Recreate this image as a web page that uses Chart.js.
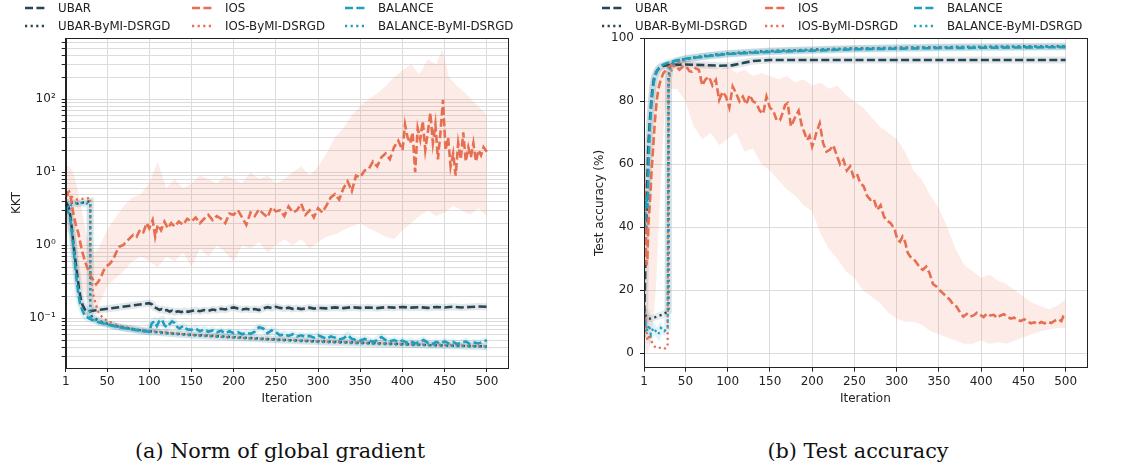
<!DOCTYPE html>
<html>
<head>
<meta charset="utf-8">
<script src="https://cdn.jsdelivr.net/npm/chart.js@4.4.0/dist/chart.umd.min.js"></script>
<style>
  body { margin: 0; background: #fff; width: 1129px; height: 467px; position: relative; overflow: hidden; font-family: 'DejaVu Sans', sans-serif; }
  canvas { position: absolute; top: 0; }
  #cvKkt { left: 0; }
  #cvAcc { left: 560px; }
  .leg { position: absolute; font-size: 11.8px; color: #222; white-space: nowrap; line-height: 14px; }
  .leg svg { position: absolute; }
  .cap { position: absolute; top: 439px; font-family: 'DejaVu Serif', serif; font-size: 20.8px; color: #111; transform: translateX(-50%); white-space: nowrap; }
</style>
</head>
<body>
<canvas id="cvKkt" width="560" height="420"></canvas>
<canvas id="cvAcc" width="569" height="420"></canvas>
<div id="legends"></div>
<div class="cap" style="left:280px">(a) Norm of global gradient</div>
<div class="cap" style="left:858px">(b) Test accuracy</div>

<script>
// ---- dados: [iteração, valor] ----
const xTicks = [1, 50, 100, 150, 200, 250, 300, 350, 400, 450, 500];
const accTicks = [0, 20, 40, 60, 80, 100];

// (a) KKT
const kktUbar = [[1,3.8],[3,3.6],[5,3.2],[7,2.3],[9,1.4],[11,0.85],[13,0.55],[15,0.36],[17,0.24],[19,0.18],[21,0.15],[24,0.13],[27,0.122],[30,0.125],
  [100,0.16],[103,0.155],[106,0.14],[109,0.136],[112,0.13],[115,0.133],[118,0.127],[121,0.129],[124,0.123],[127,0.126],[130,0.12],[134,0.124],[138,0.121],
  [142,0.126],[146,0.122],[150,0.125],[155,0.128],[160,0.124],[165,0.129],[170,0.126],[175,0.131],[180,0.128],[185,0.134],[190,0.131],[195,0.137],[200,0.14],
  [205,0.135],[210,0.131],[215,0.134],[220,0.13],[225,0.133],[230,0.129],[235,0.136],[240,0.141],[245,0.137],[250,0.143],[255,0.138],[260,0.135],[265,0.139],
  [270,0.134],[275,0.137],[280,0.133],[285,0.136],[290,0.139],[295,0.135],[300,0.138],[310,0.136],[320,0.14],[330,0.137],[340,0.141],[350,0.138],[360,0.14],
  [370,0.137],[380,0.141],[390,0.139],[400,0.142],[410,0.139],[420,0.141],[430,0.138],[440,0.142],[450,0.14],[460,0.143],[470,0.14],[480,0.142],[490,0.144],[500,0.143]];

const kktIos = [[1,4.5],[3,5.2],[5,5.4],[7,4.5],[10,2.7],[13,1.9],[16,1.46],[20,0.86],[23,0.65],[26,0.51],[31,0.37],[34,0.33],[37,0.29],[40,0.32],[43,0.37],
  [46,0.45],[49,0.51],[53,0.55],[57,0.63],[61,0.8],[65,0.96],[69,1.0],[73,1.12],[77,1.25],[81,1.38],[85,1.3],[89,1.62],[93,1.5],[97,2.0],[100,1.7],[104,2.2],
  [107,1.3],[110,1.9],[114,1.6],[118,2.1],[122,1.7],[126,2.0],[130,1.8],[135,2.1],[140,1.9],[145,2.3],[150,2.1],[155,2.4],[160,2.0],[165,2.3],[170,2.6],
  [175,2.2],[180,2.5],[185,2.3],[190,2.0],[195,2.7],[200,2.6],[205,3.0],[210,2.4],[215,1.9],[220,2.8],[225,2.5],[230,3.1],[235,2.7],[240,2.4],[245,3.3],
  [250,2.9],[255,3.0],[260,2.5],[265,3.4],[270,2.8],[275,3.0],[280,3.7],[285,2.6],[290,3.0],[295,2.4],[300,3.2],[305,2.8],[310,3.5],[315,4.5],[320,5.0],
  [325,4.2],[330,6.0],[335,7.5],[340,5.5],[345,9.0],[350,8.5],[355,10.5],[360,11],[365,14],[370,12],[375,16],[380,18],[385,15],[390,22],[395,27],[400,20],
  [403,45],[406,30],[409,25],[412,35],[415,10],[418,40],[421,28],[424,50],[427,20],[430,35],[433,65],[436,25],[439,45],[442,15],[445,35],[448,98],[451,20],
  [454,30],[457,12],[460,18],[463,9],[466,25],[469,15],[472,35],[475,14],[478,22],[481,16],[484,25],[487,14],[490,20],[493,17],[496,22],[500,19]];

const kktIosHi = [[1,12],[5,12],[10,10],[15,6],[20,3],[25,1.5],[30,1.0],[35,0.8],[40,0.9],[45,1.2],[50,1.6],[60,2.4],[70,3.5],[80,4.5],[90,5],[100,7],[110,14],
  [120,6],[130,8],[140,6],[150,7],[160,9],[170,8],[180,7],[190,9],[200,8],[210,7],[220,10],[230,8],[240,9],[250,7],[260,8],[270,10],[280,12],[290,9],[300,12],
  [310,18],[320,30],[330,40],[340,60],[350,80],[360,100],[370,120],[380,150],[390,200],[400,250],[410,300],[420,220],[430,350],[440,300],[447,480],[455,200],
  [465,150],[475,120],[485,90],[495,70],[500,60]];
const kktIosLo = [[1,1.5],[5,1.5],[10,0.7],[15,0.4],[20,0.25],[25,0.2],[30,0.15],[35,0.12],[40,0.15],[45,0.2],[50,0.28],[60,0.35],[70,0.45],[80,0.6],[90,0.7],
  [100,0.6],[110,0.5],[120,0.7],[130,0.6],[140,0.8],[150,0.5],[160,0.9],[170,0.7],[180,1.0],[190,0.8],[200,0.6],[210,1.0],[220,0.9],[230,1.1],[240,0.8],
  [250,1.0],[260,1.2],[270,1.0],[280,1.2],[290,0.9],[300,1.1],[310,1.3],[320,1.4],[330,1.6],[340,1.8],[350,2.0],[360,1.7],[370,1.5],[380,1.3],[390,1.2],
  [400,1.6],[410,2.0],[420,2.5],[430,3.0],[440,2.5],[450,2.8],[460,3.5],[470,3.0],[480,2.6],[490,3.2],[500,2.5]];

const kktBal = [[1,3.4],[3,3.0],[6,2.5],[8,1.6],[10,0.96],[12,0.55],[14,0.33],[16,0.22],[18,0.16],[21,0.125],[24,0.107],[28,0.1],[32,0.095],[40,0.088],
  [50,0.082],[60,0.077],[70,0.073],[80,0.07],[90,0.067],[100,0.065],[103,0.085],[106,0.09],[109,0.078],[112,0.092],[115,0.095],[118,0.08],[121,0.075],
  [124,0.083],[127,0.09],[130,0.086],[133,0.076],[136,0.072],[140,0.078],[145,0.07],[150,0.069],[155,0.072],[160,0.066],[165,0.07],[170,0.065],[175,0.068],
  [180,0.064],[185,0.067],[190,0.062],[195,0.066],[200,0.062],[205,0.064],[210,0.06],[215,0.063],[220,0.061],[225,0.065],[230,0.075],[235,0.072],[240,0.062],
  [245,0.068],[250,0.064],[255,0.058],[260,0.06],[265,0.057],[270,0.06],[275,0.056],[280,0.058],[285,0.055],[290,0.057],[295,0.054],[300,0.058],[305,0.055],
  [310,0.052],[315,0.056],[320,0.054],[325,0.051],[330,0.053],[335,0.058],[340,0.052],[345,0.05],[350,0.049],[355,0.052],[360,0.05],[365,0.047],[370,0.05],
  [375,0.055],[380,0.05],[385,0.048],[390,0.05],[395,0.047],[400,0.049],[405,0.046],[410,0.048],[415,0.045],[420,0.047],[425,0.05],[430,0.046],[435,0.044],
  [440,0.047],[445,0.045],[450,0.048],[455,0.045],[460,0.047],[465,0.044],[470,0.046],[475,0.048],[480,0.044],[485,0.046],[490,0.045],[495,0.047],[500,0.05]];

const kktUbarM = [[1,3.7],[5,3.9],[10,3.8],[15,3.7],[20,3.8],[25,3.9],[30,4.0],[30,0.11],[35,0.1],[40,0.092],[50,0.084],[60,0.078],[70,0.074],[80,0.071],
  [90,0.068],[100,0.066],[125,0.062],[150,0.059],[175,0.057],[200,0.055],[250,0.051],[300,0.048],[350,0.046],[400,0.044],[450,0.042],[500,0.041]];
const kktIosM = [[1,4.0],[3,4.8],[5,5.0],[10,4.4],[15,4.2],[20,4.3],[25,4.3],[30,4.5],[30,0.45],[32,0.3],[34,0.2],[37,0.15],[40,0.12],[45,0.1],[50,0.092],
  [60,0.082],[70,0.076],[80,0.072],[90,0.069],[100,0.067],[150,0.059],[200,0.054],[250,0.051],[300,0.048],[350,0.046],[400,0.044],[450,0.043],[500,0.041]];
const kktBalM = [[1,3.0],[3,3.5],[5,3.2],[8,3.6],[12,3.8],[16,3.7],[20,3.8],[25,3.7],[30,3.8],[30,0.105],[35,0.097],[40,0.09],[50,0.083],[60,0.077],
  [70,0.073],[80,0.07],[90,0.067],[100,0.065],[125,0.061],[150,0.058],[175,0.056],[200,0.054],[250,0.05],[300,0.047],[350,0.045],[400,0.043],[450,0.042],[500,0.04]];

// (b) acurácia
const accUbar = [[1,9],[2,20],[3,35],[4,45],[5,55],[6,65],[7,70],[9,78],[11,84],[13,87.5],[16,89.5],[19,90.6],[23,91.2],[30,91.5],[50,91.7],[70,91.5],
  [90,91.3],[105,91.4],[115,92],[130,92.8],[150,93.1],[200,93.1],[300,93.1],[400,93.1],[500,93.1]];
const accIos = [[1,55],[2,50],[3,35],[4,28],[5,30],[6,40],[8,48],[10,58],[12,66],[14,74],[16,80],[18,84],[21,87],[24,89],[28,90],[31,91],[35,91.5],[39,91],
  [43,90],[47,91],[51,91],[55,89.5],[58,89.4],[62,90.5],[66,90],[70,85],[74,87],[78,87.8],[82,85],[86,86.8],[90,80.4],[94,83],[98,81.5],[102,78],[106,84.7],
  [110,82.5],[114,80],[118,81.5],[122,79],[126,82],[130,80],[134,79.4],[138,77],[142,76],[146,81.5],[150,78],[154,77],[158,74],[162,74],[166,77],[168,78.8],
  [171,79.4],[175,72],[180,75],[184,77],[188,72],[191,70],[194,67.7],[197,69],[200,65.6],[203,68],[205,70],[209,73],[213,66.7],[217,64],[221,64.6],[225,66],
  [229,63],[233,60],[237,61.4],[241,58],[245,59.3],[249,56],[253,57],[257,54],[261,53],[265,50],[269,48.7],[273,49],[277,45.5],[281,47],[285,43.4],[289,42],
  [293,41.3],[296,40],[298,39],[301,36],[304,35.4],[307,37],[310,35.4],[313,32],[316,30.7],[320,30],[324,28.6],[328,27],[331,26.5],[335,27.5],[339,25.4],
  [343,22],[347,21.2],[351,20],[355,19],[359,18],[363,17],[367,15.5],[371,14.8],[375,13],[379,11.6],[383,12.5],[387,11.6],[391,12],[395,12.8],[399,12.2],
  [403,11.5],[407,12.6],[411,12],[415,12.2],[419,11.2],[423,12],[427,12.4],[431,11.6],[435,11],[439,11.3],[443,10.6],[447,10.2],[451,10.8],[455,10],[459,9.5],
  [463,9.8],[467,9.2],[471,9.9],[475,9.5],[479,10],[483,9.6],[487,10.3],[491,10.8],[495,10.2],[497,11.5],[500,10.6]];
const accIosHi = [[1,70],[5,45],[10,75],[15,85],[20,90],[25,92],[30,93],[40,93.5],[50,93],[60,92.5],[70,91],[80,92],[90,90],[100,91],[110,89],[120,90],
  [130,88],[140,89],[150,88],[160,87],[170,88],[180,86],[190,87],[200,85],[210,86],[220,84],[230,85],[240,82],[250,80],[260,78],[270,75],[280,72],[290,70],
  [300,68],[310,64],[320,58],[330,55],[340,50],[350,46],[360,40],[370,33],[380,28],[390,26],[400,24],[410,25],[420,23],[430,22],[440,20],[450,18],[460,16],
  [470,15],[480,14],[490,15],[500,17]];
const accIosLo = [[1,2],[5,0],[10,5],[15,20],[20,50],[25,75],[30,84],[40,84],[50,80],[60,72],[70,68],[80,70],[90,66],[100,68],[110,70],[120,64],[130,65],
  [140,60],[150,58],[160,55],[170,52],[180,50],[190,47],[200,45],[210,38],[220,33],[230,30],[240,26],[250,24],[260,20],[270,18],[280,16],[290,13],[300,11],
  [310,10],[320,10],[330,9],[340,7],[350,6],[360,5],[370,4],[380,3],[390,3],[400,4],[410,3],[420,3.5],[430,3],[440,4],[450,5],[460,6],[470,7],[480,7.5],
  [490,8],[500,8]];
const accBal = [[1,45],[2,40],[3,48],[4,50],[5,46],[6,55],[7,65],[8,72],[10,80],[12,85],[14,88],[17,90],[21,91.2],[25,91.8],[30,92.3],[40,93],[50,93.5],
  [75,94.3],[100,95],[150,95.7],[200,96.1],[250,96.5],[300,96.7],[350,96.9],[400,97],[450,97.1],[500,97.2]];
const accUbarM = [[1,14],[3,12],[6,11],[10,11],[15,11.5],[20,12],[25,12.5],[30,13.5],[30,88],[32,91],[35,92],[40,92.8],[50,93.5],[75,94.5],[100,95.2],
  [150,96],[200,96.4],[250,96.8],[300,97],[350,97.2],[400,97.3],[450,97.4],[500,97.5]];
const accIosM = [[1,8],[3,10],[5,4],[8,6],[11,3],[14,2],[18,1.5],[22,2],[26,1.5],[29,2],[30,85],[32,89],[36,91],[40,92],[50,93.2],[75,94.3],[100,95],
  [150,95.8],[200,96.3],[250,96.7],[300,96.9],[350,97.1],[400,97.2],[450,97.3],[500,97.4]];
const accBalM = [[1,5],[3,9],[5,7],[7,9],[9,6],[12,8],[15,7],[18,6],[21,8],[25,7],[29,8],[30,87],[32,90.5],[35,91.8],[40,92.6],[50,93.4],[75,94.4],
  [100,95.1],[150,95.9],[200,96.3],[250,96.7],[300,96.9],[350,97.1],[400,97.2],[450,97.3],[500,97.4]];

// ---- estilos ----
const C_UBAR = '#264653';
const C_IOS = '#E76F51';
const C_BAL = '#219EBC';
const DASH = [8, 3.4];
const DOT = [2.2, 3.4];
const GRID = '#dcdcdc';
const INK = '#222';

Chart.defaults.font.family = "'DejaVu Sans', sans-serif";
Chart.defaults.font.size = 12;
Chart.defaults.color = INK;

const pts = arr => arr.map(([x, y]) => ({ x, y }));

function linha(label, data, color, dash, width, order) {
  return { label, data: pts(data), borderColor: color, borderWidth: width, borderDash: dash, borderCapStyle: 'butt',
    pointRadius: 0, fill: false, tension: 0, order };
}
function brilho(data, rgba) {
  return { label: '', data: pts(data), borderColor: rgba, borderWidth: 7, pointRadius: 0, fill: false, tension: 0, order: 20 };
}
function faixa(hi, lo, rgba) {
  return [
    { label: '', data: pts(hi), borderWidth: 0, borderColor: 'rgba(0,0,0,0)', pointRadius: 0, fill: false, tension: 0, order: 30 },
    { label: '', data: pts(lo), borderWidth: 0, borderColor: 'rgba(0,0,0,0)', backgroundColor: rgba, pointRadius: 0, fill: '-1', tension: 0, order: 30 }
  ];
}

// moldura superior/direita (estilo matplotlib)
const moldura = {
  id: 'moldura',
  afterDraw(chart) {
    const { ctx, chartArea: a } = chart;
    ctx.save();
    ctx.strokeStyle = INK;
    ctx.lineWidth = 1;
    ctx.strokeRect(Math.round(a.left) + 0.5, Math.round(a.top) + 0.5, Math.round(a.right - a.left), Math.round(a.bottom - a.top));
    ctx.restore();
  }
};

function eixoX(h) {
  return {
    type: 'linear', min: 1, max: 525,
    afterBuildTicks: s => { s.ticks = xTicks.map(v => ({ value: v })); },
    afterFit: s => { s.height = h; },
    ticks: { autoSkip: false, maxRotation: 0, padding: 3 },
    grid: { color: GRID, lineWidth: 1, tickLength: 4, tickColor: INK },
    border: { color: INK, width: 1 },
    title: { display: true, text: 'Iteration', padding: { top: 0, bottom: 14 } }
  };
}

const opcoesBase = {
  responsive: false,
  animation: false,
  plugins: { legend: { display: false }, tooltip: { enabled: false } }
};

// ---- (a) KKT ----
const kktTickVals = [];
for (let e = -2; e <= 2; e++) {
  for (let m = 1; m <= 9; m++) {
    const v = m * Math.pow(10, e);
    if (v >= 0.0207 && v <= 690) kktTickVals.push(v);
  }
}
const sup = { '-': '⁻', '0': '⁰', '1': '¹', '2': '²', '3': '³' };
function rotuloPot(v) {
  const e = Math.log10(v);
  if (Math.abs(e - Math.round(e)) > 1e-6) return '';
  return '10' + String(Math.round(e)).split('').map(c => sup[c]).join('');
}

new Chart(document.getElementById('cvKkt'), {
  type: 'line',
  data: {
    datasets: [
      linha('UBAR', kktUbar, C_UBAR, DASH, 2.6, 6),
      linha('UBAR-ByMI-DSRGD', kktUbarM, C_UBAR, DOT, 2.3, 5),
      linha('IOS', kktIos, C_IOS, DASH, 2.6, 4),
      linha('IOS-ByMI-DSRGD', kktIosM, C_IOS, DOT, 2.3, 3),
      linha('BALANCE', kktBal, C_BAL, DASH, 2.6, 2),
      linha('BALANCE-ByMI-DSRGD', kktBalM, C_BAL, DOT, 2.3, 1),
      brilho(kktUbar, 'rgba(38,70,83,0.13)'),
      brilho(kktUbarM, 'rgba(38,70,83,0.10)'),
      brilho(kktBal, 'rgba(33,158,188,0.13)'),
      brilho(kktBalM, 'rgba(33,158,188,0.10)'),
      ...faixa(kktIosHi, kktIosLo, 'rgba(231,111,81,0.14)')
    ]
  },
  options: {
    ...opcoesBase,
    layout: { padding: { left: 0, top: 38, right: 52, bottom: 0 } },
    scales: {
      x: eixoX(52),
      y: {
        type: 'logarithmic', min: 0.0207, max: 690,
        afterBuildTicks: s => { s.ticks = kktTickVals.map(v => ({ value: v })); },
        afterFit: s => { s.width = 65.7; },
        ticks: { autoSkip: false, padding: 6, callback: v => rotuloPot(v) },
        grid: { color: GRID, lineWidth: 1, tickLength: 4, tickColor: INK },
        border: { color: INK, width: 1 },
        title: { display: true, text: 'KKT', padding: { top: 10, bottom: 0 } }
      }
    }
  },
  plugins: [moldura]
});

// ---- (b) acurácia ----
new Chart(document.getElementById('cvAcc'), {
  type: 'line',
  data: {
    datasets: [
      linha('UBAR', accUbar, C_UBAR, DASH, 2.6, 6),
      linha('UBAR-ByMI-DSRGD', accUbarM, C_UBAR, DOT, 2.3, 5),
      linha('IOS', accIos, C_IOS, DASH, 2.6, 4),
      linha('IOS-ByMI-DSRGD', accIosM, C_IOS, DOT, 2.3, 3),
      linha('BALANCE', accBal, C_BAL, DASH, 2.6, 2),
      linha('BALANCE-ByMI-DSRGD', accBalM, C_BAL, DOT, 2.3, 1),
      brilho(accUbar, 'rgba(38,70,83,0.13)'),
      brilho(accUbarM, 'rgba(38,70,83,0.10)'),
      brilho(accBal, 'rgba(33,158,188,0.13)'),
      brilho(accBalM, 'rgba(33,158,188,0.12)'),
      ...faixa(accIosHi, accIosLo, 'rgba(231,111,81,0.14)')
    ]
  },
  options: {
    ...opcoesBase,
    layout: { padding: { left: 0, top: 38.3, right: 42.3, bottom: 0 } },
    scales: {
      x: eixoX(52.3),
      y: {
        type: 'linear', min: -4.6, max: 100,
        afterBuildTicks: s => { s.ticks = accTicks.map(v => ({ value: v })); },
        afterFit: s => { s.width = 84; },
        ticks: { autoSkip: false, padding: 6 },
        grid: { color: GRID, lineWidth: 1, tickLength: 4, tickColor: INK },
        border: { color: INK, width: 1 },
        title: { display: true, text: 'Test accuracy (%)', padding: { top: 33, bottom: 0 } }
      }
    }
  },
  plugins: [moldura]
});

// ---- legendas em HTML (3 colunas x 2 linhas) ----
const legendItems = [
  { label: 'UBAR', color: C_UBAR, dash: '8,3.4' },
  { label: 'IOS', color: C_IOS, dash: '8,3.4' },
  { label: 'BALANCE', color: C_BAL, dash: '8,3.4' },
  { label: 'UBAR-ByMI-DSRGD', color: C_UBAR, dash: '2.2,3.4' },
  { label: 'IOS-ByMI-DSRGD', color: C_IOS, dash: '2.2,3.4' },
  { label: 'BALANCE-ByMI-DSRGD', color: C_BAL, dash: '2.2,3.4' }
];
const legendCols = { kkt: [25, 192, 345], acc: [602, 765, 914] };
const legendRows = [8, 26];

const host = document.getElementById('legends');
Object.values(legendCols).forEach(cols => {
  legendItems.forEach((it, i) => {
    const x = cols[i % 3];
    const y = legendRows[Math.floor(i / 3)];
    const d = document.createElement('div');
    d.className = 'leg';
    d.style.left = x + 'px';
    d.style.top = (y - 7) + 'px';
    d.innerHTML = `<svg width="22" height="6" style="left:0;top:4px"><line x1="0" y1="3" x2="22" y2="3" stroke="${it.color}" stroke-width="2.6" stroke-dasharray="${it.dash}"/></svg>` +
      `<span style="position:absolute;left:33px;top:0">${it.label}</span>`;
    host.appendChild(d);
  });
});
</script>
</body>
</html>
